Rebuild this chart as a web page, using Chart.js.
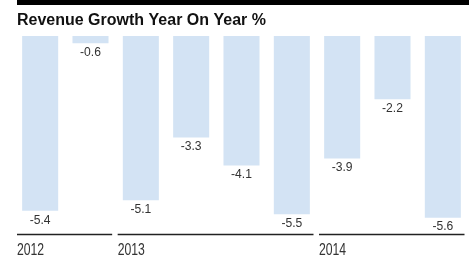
<!DOCTYPE html>
<html>
<head>
<meta charset="utf-8">
<script src="https://cdn.jsdelivr.net/npm/chart.js@4"></script>
<style>
html,body{margin:0;padding:0;background:#fff;}
canvas{display:block;}
</style>
</head>
<body>
<canvas id="c" width="469" height="272"></canvas>
<script>
// Data
const title = 'Revenue Growth Year On Year %';
const categories = ['Q3 2012','Q4 2012','Q1 2013','Q2 2013','Q3 2013','Q4 2013','Q1 2014','Q2 2014','Q3 2014'];
const values = [-5.4, -0.6, -5.1, -3.3, -4.1, -5.5, -3.9, -2.2, -5.6];
const years = ['2012', '2013', '2014'];
const yearOf = ['2012','2012','2013','2013','2013','2013','2014','2014','2014'];

const FONT = '"Liberation Sans", Arial, sans-serif';

function narrowText(ctx, text, x, y, sx) {
  ctx.save();
  ctx.translate(x, y);
  ctx.scale(sx, 1);
  ctx.fillText(text, 0, 0);
  ctx.restore();
}

const decor = {
  id: 'decor',
  afterDraw(chart) {
    const ctx = chart.ctx;
    const x = chart.scales.x;
    ctx.save();
    // top black rule
    ctx.fillStyle = '#000';
    ctx.fillRect(17, 0, chart.width - 17, 5);
    // title
    ctx.fillStyle = '#111';
    ctx.font = 'bold 16.75px ' + FONT;
    ctx.textAlign = 'left';
    ctx.textBaseline = 'alphabetic';
    narrowText(ctx, title, 17, 25.3, 0.955);
    // value labels
    const meta = chart.getDatasetMeta(0);
    ctx.font = '12.5px ' + FONT;
    ctx.fillStyle = '#333';
    ctx.textAlign = 'center';
    ctx.textBaseline = 'top';
    meta.data.forEach((bar, i) => {
      narrowText(ctx, values[i].toFixed(1), bar.x, bar.y + 3, 0.97);
    });
    // year groups
    const half = (x.getPixelForValue(1) - x.getPixelForValue(0)) / 2;
    years.forEach(yr => {
      const idx = yearOf.map((y, i) => y === yr ? i : -1).filter(i => i >= 0);
      const left = x.getPixelForValue(idx[0]) - half + 2;
      const right = x.getPixelForValue(idx[idx.length - 1]) + half - 3.5;
      ctx.strokeStyle = '#222';
      ctx.lineWidth = 1.3;
      ctx.beginPath();
      ctx.moveTo(left, 234.5);
      ctx.lineTo(right, 234.5);
      ctx.stroke();
      ctx.fillStyle = '#333';
      ctx.font = '16.5px ' + FONT;
      ctx.textAlign = 'left';
      ctx.textBaseline = 'alphabetic';
      narrowText(ctx, yr, left, 255, 0.74);
    });
    ctx.restore();
  }
};

new Chart(document.getElementById('c'), {
  type: 'bar',
  data: {
    labels: categories,
    datasets: [{
      data: values,
      backgroundColor: '#D3E3F4',
      borderWidth: 0,
      barPercentage: 0.716,
      categoryPercentage: 1.0
    }]
  },
  options: {
    responsive: false,
    animation: false,
    devicePixelRatio: 1,
    layout: { padding: { left: 15, right: 1, top: 36, bottom: 42 } },
    plugins: { legend: { display: false }, tooltip: { enabled: false }, title: { display: false } },
    scales: {
      x: { display: false, grid: { display: false } },
      y: { display: false, min: -5.95, max: -0.39, grid: { display: false } }
    }
  },
  plugins: [decor]
});
</script>
</body>
</html>
